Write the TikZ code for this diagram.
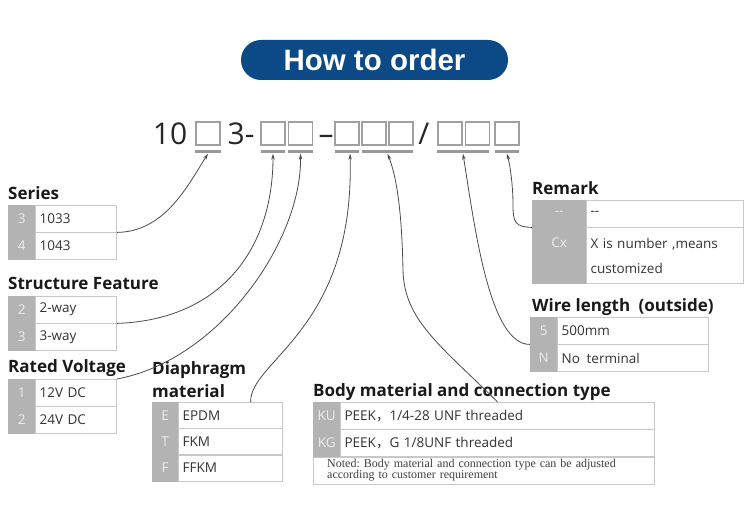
\documentclass[tikz,border=0pt]{standalone}
\usepackage{fontspec}
\setmainfont{Open Sans}
\newfontfamily\pillfont{Liberation Sans}
\newfontfamily\notefont{Liberation Serif}
\newfontfamily\cjk{Noto Sans CJK SC}
\usetikzlibrary{arrows.meta}
\frenchspacing

\definecolor{pillblue}{HTML}{0B4A86}
\definecolor{keygray}{HTML}{B3B3B3}
\definecolor{keytext}{HTML}{EDEDED}
\definecolor{cellline}{HTML}{C8C8C8}
\definecolor{valtext}{HTML}{333333}
\definecolor{boxgray}{HTML}{A0A0A0}
\definecolor{linkgray}{HTML}{4A4A4A}

\begin{document}
\begin{tikzpicture}[
    x=1pt, y=-1pt,
    pill node/.style={rounded corners=20pt, fill=pillblue, minimum width=267pt, minimum height=40pt, inner sep=0, text=white, font=\pillfont\bfseries\fontsize{29.5}{30}\selectfont},
    code text/.style={anchor=base, inner sep=0, text=black!85, font=\fontsize{30}{31}\selectfont},
    digit box/.style={draw=boxgray, line width=1.1pt, minimum width=24pt, minimum height=23pt, inner sep=0},
    under bar/.style={fill=gray!80, minimum height=3pt, inner sep=0, minimum width=#1},
    head text/.style={anchor=base west, inner sep=0, text=black!90, font=\bfseries\fontsize{17}{18}\selectfont},
    key cell/.style={draw=keygray, fill=keygray, text=keytext, anchor=north west, inner sep=0, minimum width=#1, minimum height=27pt, font=\fontsize{13.5}{25}\selectfont},
    val cell/.style={draw=cellline, fill=white, text=valtext, anchor=north west, inner xsep=4pt, inner ysep=0, text width=#1, minimum height=27pt, align=left, font=\fontsize{13.5}{25}\selectfont},
    note cell/.style={draw=cellline, fill=white, text=black!75, anchor=north west, inner xsep=14pt, inner ysep=0, text width=#1, minimum height=27pt, align=left, font=\notefont\fontsize{12}{11}\selectfont},
    link/.style={draw=linkgray, line width=0.8pt, -{Stealth[length=6pt, width=3.5pt]}}
]
\useasboundingbox (0,0) rectangle (750,526);

% title
\node[pill node] (pill) at (374.5,60) {How to order};

% order code: 10 _ 3- _ _ - _ _ _ / _ _ _
\node[code text] (c10)    at (170,145) {10};
\node[digit box] (d1)     at (208,133.5) {};
\node[code text] (c3)     at (241,145) {3-};
\node[digit box] (d2)     at (273,133.5) {};
\node[digit box] (d3)     at (300.5,133.5) {};
\node[code text] (cdash)  at (326,145) {–};
\node[digit box] (d4)     at (347,133.5) {};
\node[digit box] (d5)     at (374,133.5) {};
\node[digit box] (d6)     at (401,133.5) {};
\node[code text] (cslash) at (424,145) {/};
\node[digit box] (d7)     at (450,133.5) {};
\node[digit box] (d8)     at (477.5,133.5) {};
\node[digit box] (d9)     at (507,133.5) {};

% bars under each field
\node[under bar=26pt] (u1) at (208,152) {};
\node[under bar=24pt] (u2) at (273,152) {};
\node[under bar=25pt] (u3) at (300.5,152) {};
\node[under bar=24pt] (u4) at (347,152) {};
\node[under bar=51pt] (u5) at (387.5,152) {};
\node[under bar=52pt] (u6) at (463,152) {};
\node[under bar=24pt] (u7) at (507,152) {};

% Series
\node[head text] (sers) at (8,200) {Series};
\node[key cell=27pt] (s1k) at (8,205) {3};
\node[val cell=73pt] (s1v) at (s1k.north east) {1033};
\node[key cell=27pt] (s2k) at (s1k.south west) {4};
\node[val cell=73pt] (s2v) at (s2k.north east) {1043};

% Structure Feature
\node[head text] (feat) at (8,290) {Structure Feature};
\node[key cell=27pt] (f1k) at (8,296) {2};
\node[val cell=73pt] (f1v) at (f1k.north east) {2-way};
\node[key cell=27pt] (f2k) at (f1k.south west) {3};
\node[val cell=73pt] (f2v) at (f2k.north east) {3-way};

% Rated Voltage
\node[head text] (volt) at (8,373) {Rated Voltage};
\node[key cell=27pt] (r1k) at (8,379) {1};
\node[val cell=73pt] (r1v) at (r1k.north east) {12V DC};
\node[key cell=27pt] (r2k) at (r1k.south west) {2};
\node[val cell=73pt] (r2v) at (r2k.north east) {24V DC};

% Diaphragm material
\node[head text] (dia1) at (152,375) {Diaphragm};
\node[head text] (dia2) at (152,398) {material};
\node[key cell=26pt, minimum height=26pt] (m1k) at (152,402) {E};
\node[val cell=96pt, minimum height=26pt] (m1v) at (m1k.north east) {EPDM};
\node[key cell=26pt, minimum height=26pt] (m2k) at (m1k.south west) {T};
\node[val cell=96pt, minimum height=26pt] (m2v) at (m2k.north east) {FKM};
\node[key cell=26pt, minimum height=26pt] (m3k) at (m2k.south west) {F};
\node[val cell=96pt, minimum height=26pt] (m3v) at (m3k.north east) {FFKM};

% Body material and connection type
\node[head text] (body) at (313,397) {Body material and connection type};
\node[key cell=27pt] (b1k) at (313,402) {KU};
\node[val cell=306pt] (b1v) at (b1k.north east) {PEEK{\cjk ，}1/4-28 UNF threaded};
\node[key cell=27pt] (b2k) at (b1k.south west) {KG};
\node[val cell=306pt] (b2v) at (b2k.north east) {PEEK{\cjk ，}G 1/8UNF threaded};
\node[note cell=313pt] (bnote) at (b2k.south west) {Noted: Body material and connection type can be adjusted\\according to customer requirement};

% Remark
\node[head text] (rmk) at (532,195) {Remark};
\node[key cell=54pt] (k1k) at (532,200) {-{}-};
\node[val cell=149pt] (k1v) at (k1k.north east) {-{}-};
\node[key cell=54pt, minimum height=56pt, align=center] (k2k) at (k1k.south west) {Cx\\\phantom{C}};
\node[val cell=149pt, minimum height=56pt] (k2v) at (k2k.north east) {X is number ,means\\customized};

% Wire length
\node[head text] (wire) at (532,312) {Wire length\enspace(outside)};
\node[key cell=27pt] (w1k) at (530,317) {5};
\node[val cell=143pt] (w1v) at (w1k.north east) {500mm};
\node[key cell=27pt] (w2k) at (w1k.south west) {N};
\node[val cell=143pt] (w2v) at (w2k.north east) {No\enspace terminal};

% leaders from tables up to the code fields
\draw[link] (s1v.south east) .. controls (165,232) and (188,185) .. (u1.south);
\draw[link] (f1v.south east) .. controls (220,320) and (273,250) .. (u2.south);
\draw[link] (r1v.north east) .. controls (220,360) and (302,240) .. (u3.south);
\draw[link] ([xshift=20pt]m1v.north) .. controls (250,360) and (355,330) .. ([xshift=3pt]u4.south);
\draw[link] (b1v.north) .. controls (440,345) and (404,320) .. (403,270)
    .. controls (402,220) and (398,180) .. (u5.south);
\draw[link] (w1k.south west) .. controls (490,345) and (475,230) .. (u6.south);
\draw[link] (k1k.south west) .. controls (515,227) and (513,222) .. (513,205)
    .. controls (513,185) and (510,165) .. (u7.south);

\end{tikzpicture}
\end{document}
